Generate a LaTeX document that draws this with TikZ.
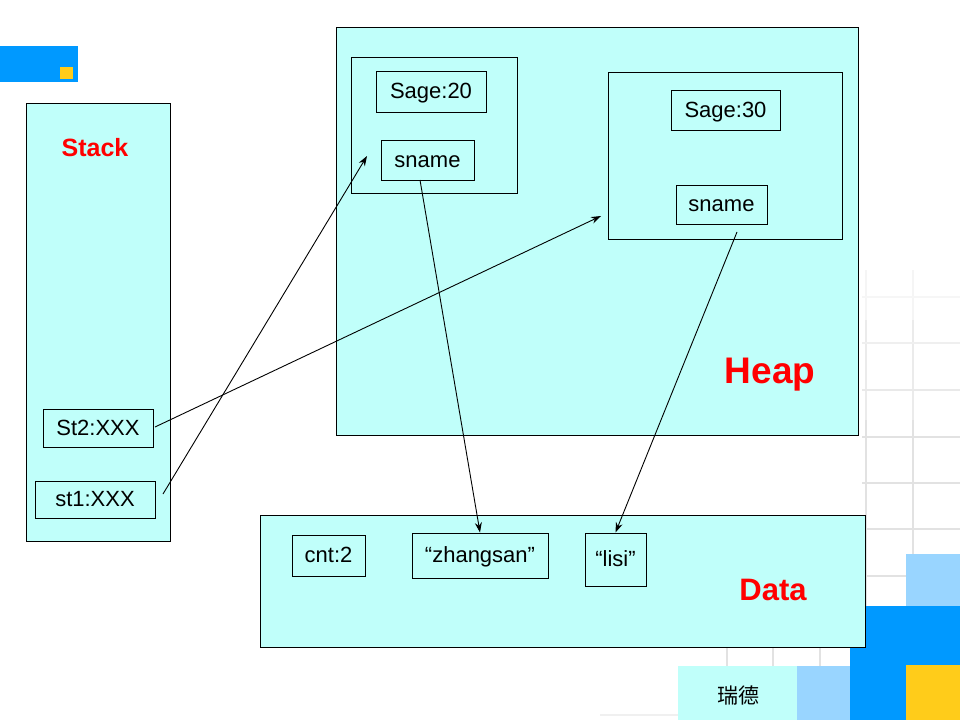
\documentclass[tikz,border=0pt]{standalone}
\usepackage{fontspec}
\setmainfont{Liberation Sans}
\newfontfamily\cjk{Noto Sans CJK SC}
\usetikzlibrary{arrows.meta}
\definecolor{cyanfill}{HTML}{C0FFFA}
\definecolor{brightblue}{HTML}{0099FF}
\definecolor{lightblue}{HTML}{99D5FF}
\definecolor{tyellow}{HTML}{FFCC1A}
\definecolor{gridgray}{HTML}{E2E2E2}
\definecolor{labelred}{HTML}{FF0000}
\tikzset{
  area/.style={draw=black, line width=1pt, fill=cyanfill},
  objbox/.style={draw=black, line width=1pt},
  cell/.style={draw=black, line width=1pt, inner sep=0pt, text height=17pt, text depth=3pt, font=\fontsize{22}{26}\selectfont},
  title/.style={text=labelred, font=\bfseries, inner sep=0pt},
  ptr/.style={line width=0.9pt, -{Stealth[length=10pt,width=7pt]}},
  gridline/.style={draw=gridgray, line width=2pt}
}
\begin{document}
\begin{tikzpicture}[x=1pt,y=-1pt]
\useasboundingbox (0,0) rectangle (960,720);
\fill[white] (0,0) rectangle (960,720);
% background grid
\draw[gridline, draw=gridgray!35] (866,270) -- (866,320);
\draw[gridline, draw=gridgray!35] (913,270) -- (913,320);
\draw[gridline, draw=gridgray!70] (866,320) -- (866,420);
\draw[gridline, draw=gridgray!70] (913,320) -- (913,420);
\draw[gridline] (866,420) -- (866,720);
\draw[gridline] (913,420) -- (913,720);
\foreach \gx in {727,773,820} \draw[gridline] (\gx,600) -- (\gx,720);
\draw[gridline, draw=gridgray!30] (862,297) -- (960,297);
\draw[gridline, draw=gridgray!55] (862,343) -- (960,343);
\draw[gridline, draw=gridgray!75] (862,390) -- (960,390);
\foreach \gy in {437,483,529,576} \draw[gridline] (862,\gy) -- (960,\gy);
\draw[gridline, draw=gridgray!50] (600,715) -- (700,715);
% decorations
\fill[brightblue] (0,46) rectangle (78,82);
\fill[tyellow] (60,67) rectangle (73,79);
\fill[lightblue] (906,554) rectangle (960,606);
\fill[brightblue] (850,606) rectangle (960,720);
\fill[tyellow] (906,665) rectangle (960,720);
\fill[lightblue] (797,666) rectangle (850,720);
\fill[cyanfill] (678,666) rectangle (797,720);
\node[inner sep=0pt, font=\cjk\fontsize{21}{24}\selectfont] (rd) at (738,695) {瑞德};
% stack
\draw[area] (26,103) rectangle (170,541);
\node[title, font=\bfseries\fontsize{25}{30}\selectfont] (stack) at (95,148) {Stack};
\node[cell, minimum width=110, minimum height=38] (st2) at (98,428) {St2:XXX};
\node[cell, minimum width=120, minimum height=37] (st1) at (95,499.5) {st1:XXX};
% heap
\draw[area] (336,27) rectangle (858,435);
\node[title, font=\bfseries\fontsize{37}{40}\selectfont] (heap) at (770,375) {Heap};
\draw[objbox] (351,57) rectangle (517,193);
\node[cell, minimum width=110, minimum height=41] (sage1) at (431,91.5) {Sage:20};
\node[cell, minimum width=93, minimum height=40] (sname1) at (427.5,160) {sname};
\draw[objbox] (608,72) rectangle (842,239);
\node[cell, minimum width=109, minimum height=40] (sage2) at (725.5,110) {Sage:30};
\node[cell, minimum width=91, minimum height=39] (sname2) at (721.5,204.5) {sname};
% data
\draw[area] (260,515) rectangle (865,647);
\node[title, font=\bfseries\fontsize{31}{36}\selectfont] (data) at (773,590) {Data};
\node[cell, minimum width=73, minimum height=41] (cnt) at (328.5,555.5) {cnt:2};
\node[cell, minimum width=136, minimum height=45] (zs) at (480,555.5) {“zhangsan”};
\node[cell, minimum width=61, minimum height=53] (ls) at (615.5,559.5) {“lisi”};
% pointer ends
\coordinate (o1) at (367,156);
\coordinate (o2) at (601,216);
\coordinate (s1a) at (163,494);
\coordinate (s2a) at (155,427);
\coordinate (n1a) at (420,180);
\coordinate (n2a) at (737,232);
\draw[ptr] (s1a) -- (o1);
\draw[ptr] (s2a) -- (o2);
\draw[ptr] (n1a) -- (zs.north);
\draw[ptr] (n2a) -- (ls.north);
\end{tikzpicture}
\end{document}
